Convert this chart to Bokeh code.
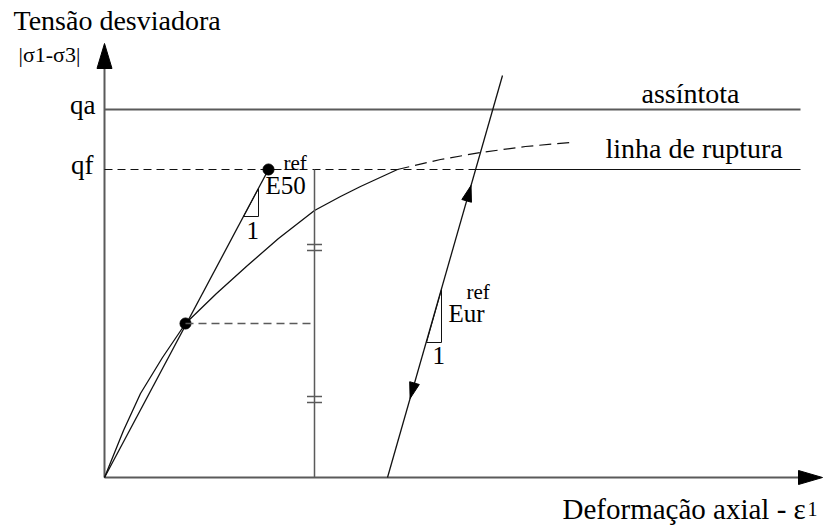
import numpy as np
from bokeh.plotting import figure
from bokeh.models import Range1d
from bokeh.core.properties import value
from bokeh.embed import file_html
from bokeh.resources import INLINE

# ---- drawing values (axial strain / deviatoric stress, in drawing units) ----
q_a = 368                 # asymptote
q_f = 308                 # failure line
eps_axis_end = 718        # tip of the strain axis
q_axis_end = 434          # tip of the stress axis
eps_right = 696           # right end of the horizontal reference lines

# stress-strain curve up to failure
curve_eps = [0, 19, 36, 58, 81, 112, 143, 174, 210, 236, 256, 293]
curve_q = [0, 47, 84, 120, 154, 184, 212, 239, 267, 281, 291, 308]
# hyperbolic continuation beyond failure (dashed)
ext_eps = [293, 336, 376, 421, 466]
ext_q = [308, 318, 325, 331, 335]

# secant modulus E50: half-failure point and failure point
half_pt = (81, 154)
fail_pt = (164, 308)
e50_tri_eps = [139, 154, 154]
e50_tri_q = [261, 261, 289]

# strain at which q_f / 2 is marked
eps_mark = 210
tick_q_upper = [227, 233]
tick_q_lower = [75, 81]
tick_half_w = 7.5

# unloading / reloading line
ur_eps = [283, 398]
ur_q = [0, 402]
ur_down_tip_q = 79
ur_up_tip_q = 292
ur_tri_eps = [322, 337, 337]
ur_tri_q = [135, 135, 188]

GRAY = "#5a5a5a"
INK = "#111111"
SERIF = "'Liberation Serif', 'Times New Roman', 'DejaVu Serif', serif"
TEXT_SHIFT = -9   # screen-pixel nudge so glyph baselines sit on their anchors

p = figure(width=825, height=528, output_backend="svg", toolbar_location=None,
           x_range=Range1d(-104, 721), y_range=Range1d(-51, 477),
           min_border=0, outline_line_color=None)
p.axis.visible = False
p.grid.visible = False
p.background_fill_color = "white"
p.border_fill_color = "white"


def head(tip, tail, length, half_w):
    """Triangle arrow head with its tip at `tip`, pointing away from `tail`."""
    t = np.array(tip, float)
    d = t - np.array(tail, float)
    u = d / np.hypot(*d)
    n = np.array([-u[1], u[0]])
    b = t - length * u
    pts = [t, b + half_w * n, b - half_w * n]
    return [q[0] for q in pts], [q[1] for q in pts]


# axes with arrow heads
p.line([0, 0], [0, q_axis_end - 22], line_color=GRAY, line_width=2)
p.line([0, eps_axis_end - 22], [0, 0], line_color=GRAY, line_width=2)
hx, hy = head((0, q_axis_end), (0, 0), 25, 7.5)
p.patch(hx, hy, fill_color="black", line_color="black")
hx, hy = head((eps_axis_end, 0), (0, 0), 24, 7)
p.patch(hx, hy, fill_color="black", line_color="black")

# asymptote and failure line
p.line([0, eps_right], [q_a, q_a], line_color=GRAY, line_width=2)
eps_cross = ur_eps[0] + (ur_eps[1] - ur_eps[0]) * q_f / ur_q[1]
p.line([0, eps_cross], [q_f, q_f], line_color=INK, line_width=1.2, line_dash="8 5")
p.line([eps_cross, eps_right], [q_f, q_f], line_color=INK, line_width=1.2)

# stress-strain curve
p.line(curve_eps, curve_q, line_color=INK, line_width=1.3)
p.line(ext_eps, ext_q, line_color=INK, line_width=1.2, line_dash="12 6")

# secant line through the half-failure point
p.line([0, fail_pt[0]], [0, fail_pt[1]], line_color=INK, line_width=1.3)
p.line(e50_tri_eps + [e50_tri_eps[0]], e50_tri_q + [e50_tri_q[0]],
       line_color=INK, line_width=1)
p.scatter([half_pt[0], fail_pt[0]], [half_pt[1], fail_pt[1]], size=11,
          fill_color="black", line_color="black")

# q_f/2 construction
p.line([eps_mark, eps_mark], [0, q_f], line_color=GRAY, line_width=1.5)
p.line([half_pt[0], eps_mark], [half_pt[1], half_pt[1]], line_color=GRAY,
       line_width=1.5, line_dash="8 5")
for qq in tick_q_upper + tick_q_lower:
    p.line([eps_mark - tick_half_w, eps_mark + tick_half_w], [qq, qq],
           line_color=GRAY, line_width=1.5)

# unloading / reloading line with direction arrows
p.line(ur_eps, ur_q, line_color=INK, line_width=1.3)
slope = (ur_eps[1] - ur_eps[0]) / ur_q[1]
down_tip = (ur_eps[0] + slope * ur_down_tip_q, ur_down_tip_q)
up_tip = (ur_eps[0] + slope * ur_up_tip_q, ur_up_tip_q)
hx, hy = head(down_tip, (ur_eps[1], ur_q[1]), 16, 5)
p.patch(hx, hy, fill_color="black", line_color="black")
hx, hy = head(up_tip, (ur_eps[0], ur_q[0]), 16, 5)
p.patch(hx, hy, fill_color="black", line_color="black")
p.line(ur_tri_eps + [ur_tri_eps[0]], ur_tri_q + [ur_tri_q[0]],
       line_color=INK, line_width=1)


def label(x, y, s, size, align="left"):
    p.text([x], [y], text=[s], text_font=value(SERIF), text_font_size=f"{size}px",
           text_color="black", text_align=align, text_baseline="alphabetic",
           y_offset=TEXT_SHIFT)


label(-91, 448, "Tensão desviadora", 28)
label(-86, 414, "|σ1-σ3|", 22)
label(-9, 364, "qa", 27, "right")
label(-11, 304, "qf", 27, "right")
label(537, 375, "assíntota", 28)
label(501, 320, "linha de ruptura", 28)
label(458, -40, "Deformação axial - ε", 29)
label(703, -40, "1", 20)
label(161, 283, "E50", 25)
label(179, 306, "ref", 21)
label(142, 238, "1", 25)
label(344, 155, "Eur", 25)
label(362, 177, "ref", 21)
label(328, 113, "1", 25)

open("out.html", "w").write(file_html(p, INLINE))
